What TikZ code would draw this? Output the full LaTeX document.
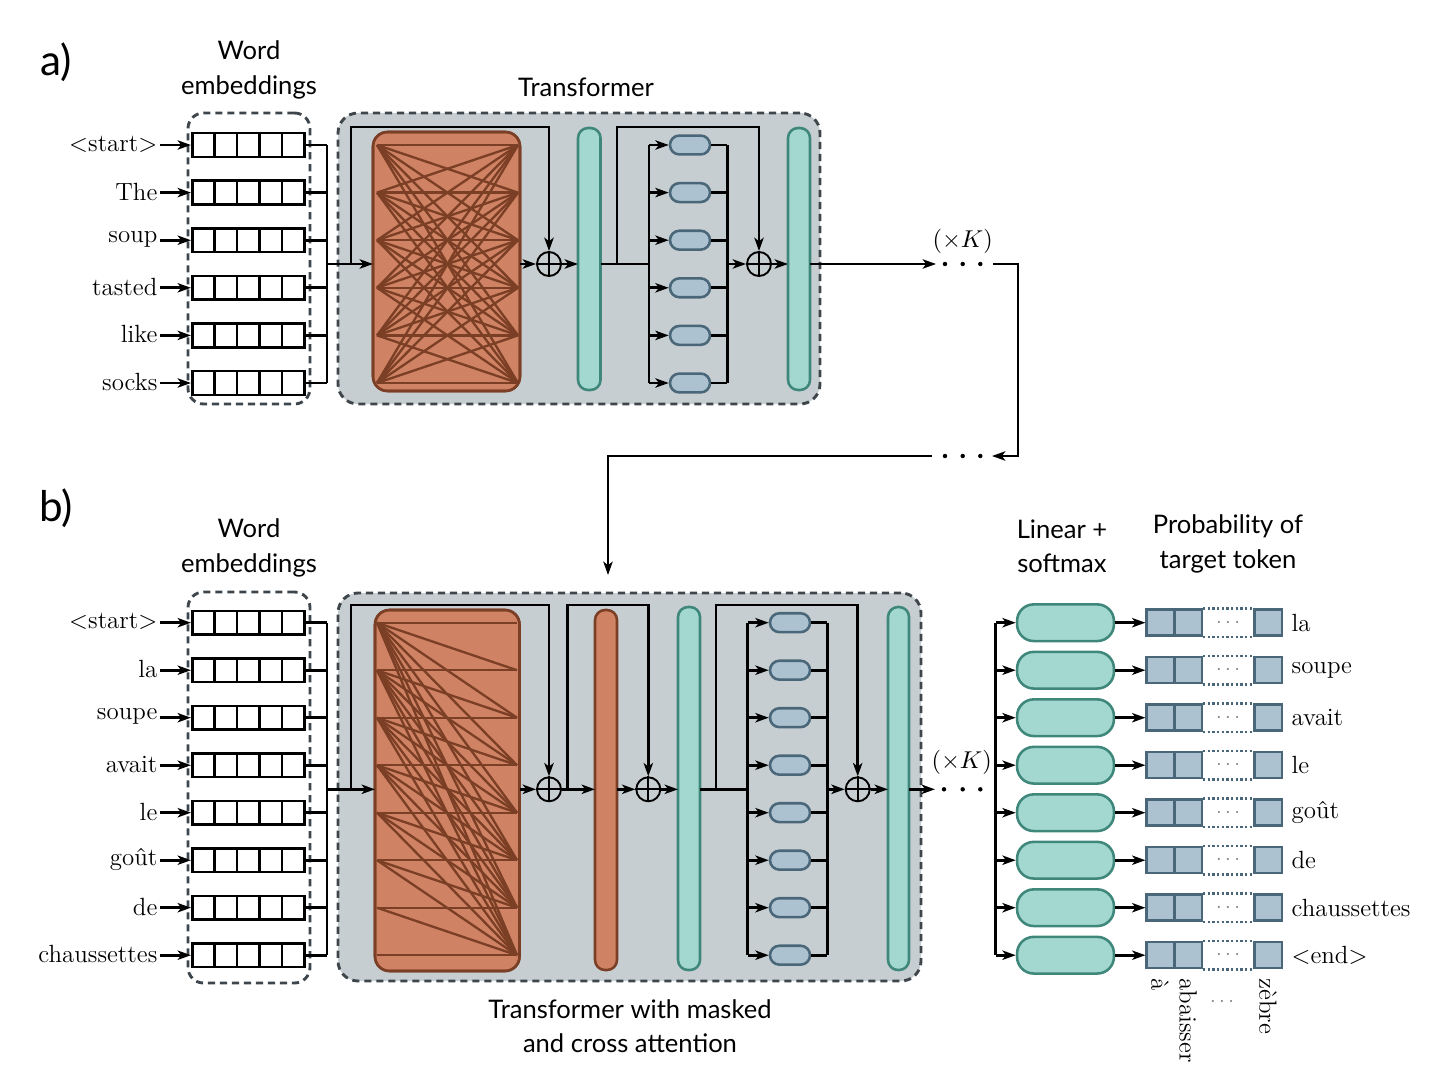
\documentclass[tikz,border=0pt]{standalone}
\usepackage{fontspec}
\newfontfamily\labfont{Lato}
\usetikzlibrary{arrows.meta}
\definecolor{tfill}{RGB}{198,206,209}
\definecolor{tdash}{RGB}{62,70,76}
\definecolor{ofill}{RGB}{208,131,100}
\definecolor{odraw}{RGB}{123,63,38}
\definecolor{gfill}{RGB}{163,216,208}
\definecolor{gdraw}{RGB}{62,135,122}
\definecolor{bfill}{RGB}{172,194,208}
\definecolor{bdraw}{RGB}{74,102,121}
\newcommand\blk[6]{\node[#2, minimum width={(#5-#3)*0.45pt}, minimum height={(#6-#4)*0.45pt}, inner sep=0pt, outer sep=0pt] (#1) at ({(#3+#5)/2},{(#4+#6)/2}) {};}
\newcommand\plusx[1]{\draw[line width=0.8pt] (#1.north)--(#1.south) (#1.west)--(#1.east);}
\tikzset{
 ln/.style={line width=1.25pt},
 arr/.style={line width=1.25pt, -{Stealth[length=6pt,width=4.2pt,inset=1.6pt]}},
 cell/.style={draw, line width=1.2pt, fill=white, minimum width=10.08pt, minimum height=10.67pt, inner sep=0pt},
 word/.style={font=\fontsize{11.2}{13}\selectfont, inner sep=1pt},
 lab/.style={font=\labfont\fontsize{11.5}{15.5}\selectfont, align=center},
 big/.style={font=\labfont\fontsize{19}{22}\selectfont},
 dashbox/.style={draw=tdash, dash pattern=on 3.2pt off 2.2pt, line width=1.3pt, rounded corners=7pt},
 tbox/.style={dashbox, fill=tfill, rounded corners=9pt},
 attn/.style={draw=odraw, fill=ofill, line width=1.15pt, rounded corners=6.5pt},
 xattn/.style={draw=odraw, fill=ofill, line width=1.15pt, rounded corners=4.5pt},
 attl/.style={draw=odraw, line width=1.05pt},
 norm/.style={draw=gdraw, fill=gfill, line width=1.15pt, rounded corners=4.5pt},
 ffp/.style={draw=bdraw, fill=bfill, line width=1.15pt, rounded corners=4.2pt, minimum width=18pt, minimum height=8.5pt, inner sep=0pt},
 smx/.style={draw=gdraw, fill=gfill, line width=1.15pt, rounded corners=7.5pt, minimum width=43.6pt, minimum height=16.5pt, inner sep=0pt},
 pcell/.style={draw=bdraw, fill=bfill, line width=1.15pt, minimum width=12.4pt, minimum height=11.7pt, inner sep=0pt},
 plusn/.style={circle, draw, line width=0.85pt, minimum size=10.8pt, inner sep=0pt, fill=tfill},
 dotn/.style={circle, fill, inner sep=0pt, minimum size=2pt},
}
\begin{document}
\begin{tikzpicture}[x=0.45pt,y=-0.45pt]
\useasboundingbox (0,0) rectangle (1442,1086);
% ---------------- a) ----------------
\node[big] (la) at (56,62) {a)};
\node[lab] (wea) at (249,70) {Word\\embeddings};
\node[lab] (tra) at (586,87) {Transformer};
\blk{embA}{dashbox}{188}{113}{310}{404}
\blk{tA}{tbox}{338}{113}{820}{404}
\blk{attA}{attn}{373}{132}{520}{391}
\blk{nA1}{norm}{578}{128}{600.5}{390}
\blk{nA2}{norm}{788}{128}{810}{390}
\begin{scope}
\clip[rounded corners=6.5pt] (373,132) rectangle (520,391);
\foreach \i in {0,...,5}{\foreach \j in {0,...,5}{
  \draw[attl] (377,145+47.6*\i) -- (518,145+47.6*\j);}}
\end{scope}
\draw[draw=odraw, line width=1.15pt, rounded corners=6.5pt] (373,132) rectangle (520,391);
\foreach \w [count=\i] in {{$<$start$>$},The,soup,tasted,like,socks}{
  \pgfmathsetmacro\yy{145+(\i-1)*47.6}
  \foreach \k in {1,...,5}{\node[cell] (ea\i-\k) at ({203.5+(\k-1)*22.4},\yy) {};}
  \node[word, anchor=east] (wa\i) at (160,\yy-1) {\w};
  \draw[arr] (wa\i.east |- ea\i-1.west) -- (ea\i-1.west);
  \draw[ln] (ea\i-5.east) -- (327,\yy);
  \node[ffp] (fa\i) at (690,\yy) {};
  \draw[arr] (649,\yy) -- (fa\i.west);
  \draw[ln] (fa\i.east) -- (727.3,\yy);
}
\coordinate (busA) at (327,264);
\draw[ln] (327,145) -- (327,383);
\draw[ln] (649,145) -- (649,383);
\draw[ln] (727.3,145) -- (727.3,383);
\node[plusn] (pa1) at (549,264) {}; \plusx{pa1}
\node[plusn] (pa2) at (759,264) {}; \plusx{pa2}
\draw[arr] (busA) -- (busA -| attA.west);
\draw[arr] (351,264) -- (351,127) -- (549,127) -- (pa1.north);
\draw[arr] (attA.east |- busA) -- (pa1.west);
\draw[arr] (pa1.east) -- (pa1.east -| nA1.west);
\draw[ln] (nA1.east |- busA) -- (649,264);
\draw[arr] (617,264) -- (617,127) -- (759,127) -- (pa2.north);
\draw[arr] (727.3,264) -- (pa2.west);
\draw[arr] (pa2.east) -- (pa2.east -| nA2.west);
\coordinate (kA) at (936,264);
\draw[arr] (nA2.east |- busA) -- (kA);
\node[dotn] (da1) at (945,264) {}; \node[dotn] (da2) at (962.7,264) {}; \node[dotn] (da3) at (980.3,264) {};
\node[word] (xka) at (962.7,241) {$(\times K)$};
\node[dotn] (db1) at (945,456) {}; \node[dotn] (db2) at (962.7,456) {}; \node[dotn] (db3) at (980.3,456) {};
\coordinate (fb1) at (993,264);
\coordinate (fb2) at (992,456);
\draw[arr] (fb1) -| (1018,456) -- (fb2);
\coordinate (fb3) at (932,456);
\coordinate (fb4) at (608,575);
\draw[arr] (fb3) -| (fb4);
% ---------------- b) ----------------
\node[big] (lb) at (56,508) {b)};
\node[lab] (web) at (249,548) {Word\\embeddings};
\node[lab] (lsm) at (1062,546) {Linear +\\softmax};
\node[lab] (ptt) at (1228,544) {Probability of\\target token};
\node[lab] (trb) at (630,1026) {Transformer with masked\\and cross attention};
\blk{embB}{dashbox}{188}{592}{310}{983}
\blk{tB}{tbox}{338}{593}{921}{981}
\blk{attB}{attn}{375}{610}{519.5}{971}
\blk{xB}{xattn}{595}{610}{617}{970}
\blk{nB1}{norm}{678}{607}{700}{970}
\blk{nB2}{norm}{888}{607}{909}{970}
\begin{scope}
\clip[rounded corners=6.5pt] (375,610) rectangle (519.5,971);
\foreach \i in {0,...,7}{\foreach \j in {\i,...,7}{
  \draw[attl] (377,622.7+47.5*\i) -- (517,622.7+47.5*\j);}}
\end{scope}
\draw[draw=odraw, line width=1.15pt, rounded corners=6.5pt] (375,610) rectangle (519.5,971);
\foreach \w [count=\i] in {{$<$start$>$},la,soupe,avait,le,goût,de,chaussettes}{
  \pgfmathsetmacro\yy{622.7+(\i-1)*47.5}
  \foreach \k in {1,...,5}{\node[cell] (eb\i-\k) at ({203.5+(\k-1)*22.4},\yy) {};}
  \node[word, anchor=east] (wb\i) at (160,\yy-1) {\w};
  \draw[arr] (wb\i.east |- eb\i-1.west) -- (eb\i-1.west);
  \draw[ln] (eb\i-5.east) -- (327,\yy);
  \node[ffp] (fb\i) at (790,\yy) {};
  \draw[arr] (747.7,\yy) -- (fb\i.west);
  \draw[ln] (fb\i.east) -- (827.3,\yy);
}
\coordinate (busB) at (327,789.3);
\draw[ln] (327,622.7) -- (327,955.2);
\draw[ln] (747.7,622.7) -- (747.7,955.2);
\draw[ln] (827.3,622.7) -- (827.3,955.2);
\node[plusn] (pb1) at (549,789.3) {}; \plusx{pb1}
\node[plusn] (pb2) at (648.3,789.3) {}; \plusx{pb2}
\node[plusn] (pb3) at (857.7,789.3) {}; \plusx{pb3}
\draw[arr] (busB) -- (busB -| attB.west);
\draw[arr] (351,789.3) -- (351,605) -- (549,605) -- (pb1.north);
\draw[arr] (attB.east |- busB) -- (pb1.west);
\draw[arr] (pb1.east) -- (pb1.east -| xB.west);
\draw[arr] (567.3,789.3) -- (567.3,605) -- (648.3,605) -- (pb2.north);
\draw[arr] (xB.east |- busB) -- (pb2.west);
\draw[arr] (pb2.east) -- (pb2.east -| nB1.west);
\draw[ln] (nB1.east |- busB) -- (747.7,789.3);
\draw[arr] (716,789.3) -- (716,605) -- (857.7,605) -- (pb3.north);
\draw[arr] (827.3,789.3) -- (pb3.west);
\draw[arr] (pb3.east) -- (pb3.east -| nB2.west);
\coordinate (kB) at (935,789.3);
\draw[arr] (nB2.east |- busB) -- (kB);
\node[dotn] (dc1) at (944,789.3) {}; \node[dotn] (dc2) at (962.7,789.3) {}; \node[dotn] (dc3) at (980.3,789.3) {};
\node[word] (xkb) at (961.7,762) {$(\times K)$};
% outputs
\draw[ln] (995.7,622.7) -- (995.7,955.2);
\foreach \w [count=\i] in {la,soupe,avait,le,goût,de,chaussettes,{$<$end$>$}}{
  \pgfmathsetmacro\yy{622.7+(\i-1)*47.5}
  \node[smx] (sm\i) at (1065.5,\yy) {};
  \draw[arr] (995.7,\yy) -- (sm\i.west);
  \node[pcell] (pc\i-1) at (1160.5,\yy) {};
  \node[pcell] (pc\i-2) at (1188,\yy) {};
  \node[pcell] (pc\i-3) at (1268.2,\yy) {};
  \draw[arr] (sm\i.east) -- (pc\i-1.west);
  \draw[draw=bdraw, line width=1.1pt, dash pattern=on 1pt off 1.1pt] (pc\i-2.north east) -- (pc\i-3.north west) (pc\i-2.south east) -- (pc\i-3.south west);
  \node[text=gray, font=\fontsize{9}{10}\selectfont, inner sep=0pt] (pd\i) at (1228,\yy) {$\cdots$};
  \node[word, anchor=west] (ow\i) at (1289,\yy) {\w};
}
\node[word, rotate=-90, anchor=west] (v1) at (1160,976) {à};
\node[word, rotate=-90, anchor=west] (v2) at (1188,976) {abaisser};
\node[text=gray, font=\fontsize{9}{10}\selectfont, inner sep=0pt] (v3) at (1222,1002) {$\cdots$};
\node[word, rotate=-90, anchor=west] (v4) at (1268,976) {zèbre};
\end{tikzpicture}
\end{document}
